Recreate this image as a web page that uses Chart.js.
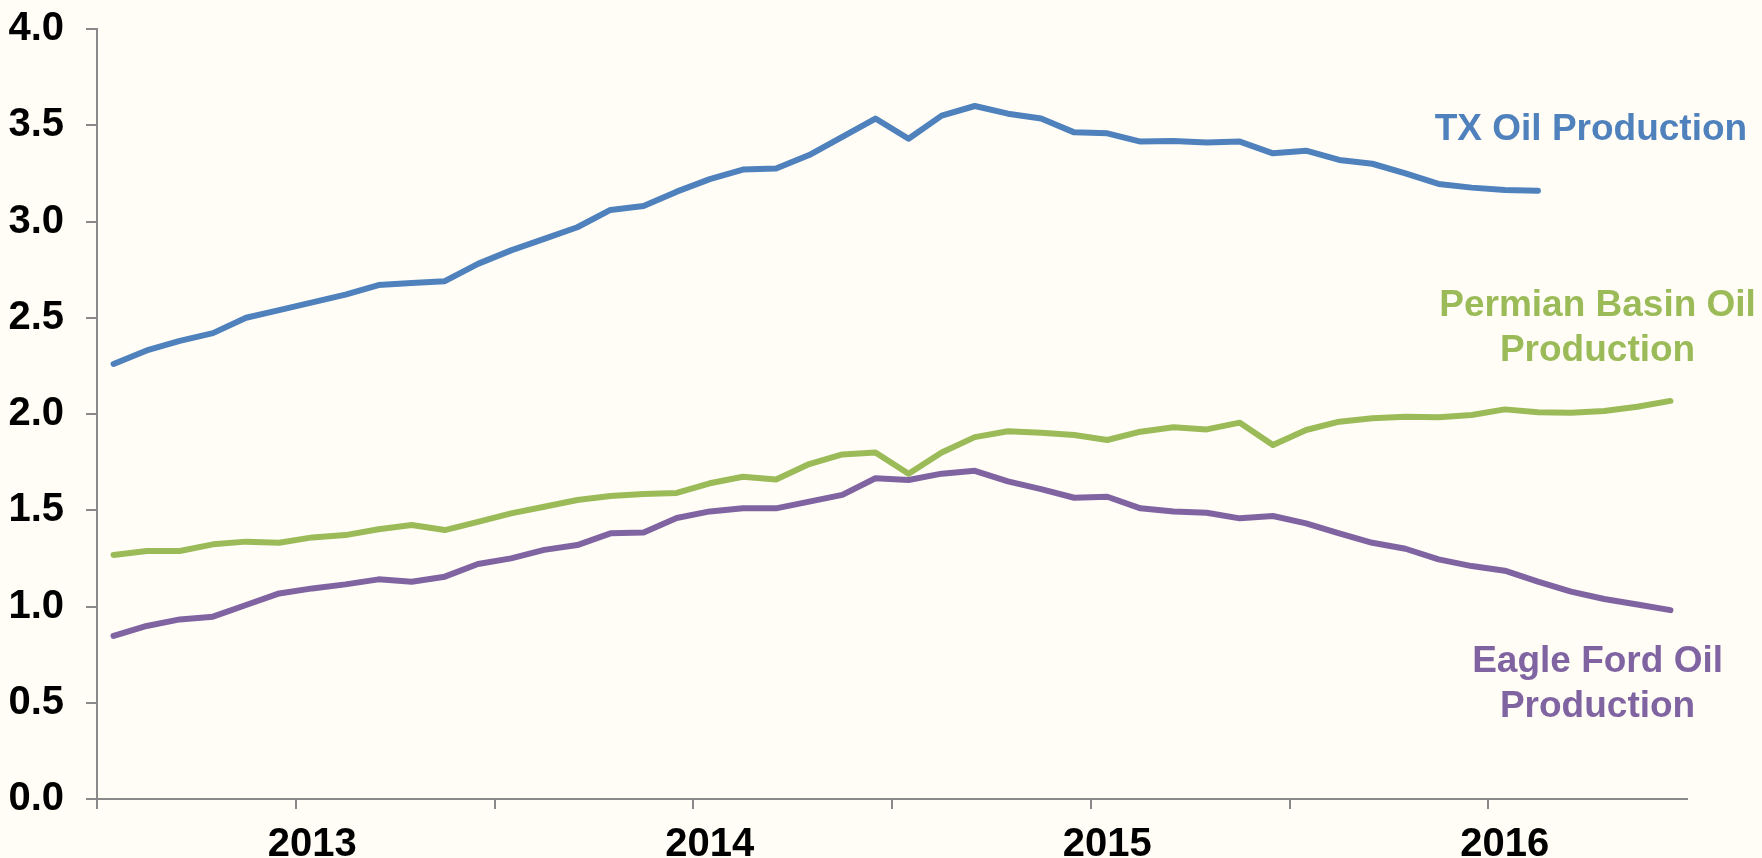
<!DOCTYPE html>
<html>
<head>
<meta charset="utf-8">
<script src="https://cdn.jsdelivr.net/npm/chart.js@4.4.1/dist/chart.umd.min.js"></script>
<style>
  html, body { margin: 0; padding: 0; background: #FFFDF6; }
  #wrap { width: 1762px; height: 858px; }
</style>
</head>
<body>
<div id="wrap"><canvas id="c" width="1762" height="858"></canvas></div>
<script>
const months = [
  "Jul 2012","Aug 2012","Sep 2012","Oct 2012","Nov 2012","Dec 2012",
  "Jan 2013","Feb 2013","Mar 2013","Apr 2013","May 2013","Jun 2013",
  "Jul 2013","Aug 2013","Sep 2013","Oct 2013","Nov 2013","Dec 2013",
  "Jan 2014","Feb 2014","Mar 2014","Apr 2014","May 2014","Jun 2014",
  "Jul 2014","Aug 2014","Sep 2014","Oct 2014","Nov 2014","Dec 2014",
  "Jan 2015","Feb 2015","Mar 2015","Apr 2015","May 2015","Jun 2015",
  "Jul 2015","Aug 2015","Sep 2015","Oct 2015","Nov 2015","Dec 2015",
  "Jan 2016","Feb 2016","Mar 2016","Apr 2016","May 2016","Jun 2016"
];
const yearLabels = ["2013", "2014", "2015", "2016"];

const txOil = [
  2.26, 2.33, 2.38, 2.42, 2.50, 2.54, 2.58, 2.62, 2.67, 2.68, 2.69, 2.78,
  2.85, 2.91, 2.97, 3.06, 3.08, 3.155, 3.22, 3.27, 3.275, 3.345, 3.44, 3.535,
  3.43, 3.55, 3.60, 3.56, 3.535, 3.463, 3.458, 3.415, 3.418, 3.41, 3.415, 3.354,
  3.368, 3.32, 3.30, 3.25, 3.195, 3.176, 3.164, 3.16, null, null, null, null
];
const permianOil = [
  1.268, 1.288, 1.288, 1.323, 1.337, 1.331, 1.359, 1.371, 1.401, 1.423, 1.397, 1.44,
  1.484, 1.518, 1.553, 1.574, 1.584, 1.59, 1.64, 1.674, 1.66, 1.74, 1.79, 1.80,
  1.69, 1.80, 1.88, 1.91, 1.903, 1.891, 1.865, 1.908, 1.931, 1.92, 1.955, 1.839,
  1.917, 1.96, 1.978, 1.986, 1.983, 1.995, 2.024, 2.009, 2.007, 2.016, 2.038, 2.068
];
const eagleFordOil = [
  0.847, 0.899, 0.933, 0.947, 1.008, 1.068, 1.094, 1.115, 1.141, 1.129, 1.155, 1.221,
  1.25, 1.294, 1.319, 1.38, 1.385, 1.46, 1.494, 1.51, 1.51, 1.545, 1.58, 1.666,
  1.657, 1.69, 1.705, 1.65, 1.61, 1.565, 1.57, 1.51, 1.493, 1.487, 1.458, 1.47,
  1.432, 1.38, 1.331, 1.30, 1.245, 1.21, 1.186, 1.129, 1.077, 1.039, 1.01, 0.981
];
const seriesNames = ["TX Oil Production", "Permian Basin Oil Production", "Eagle Ford Oil Production"];
const seriesColors = ["#4F81BD", "#9BBB59", "#8064A2"];

const FONT = "'Liberation Sans', Arial, sans-serif";
const AXIS = "#898989";

const labelPlugin = {
  id: 'seriesLabels',
  afterDatasetsDraw(chart) {
    const ctx = chart.ctx;
    const xs = chart.scales.x, ys = chart.scales.y;
    const items = [
      { lines: ["TX Oil Production"], xv: 44.6, yv: [3.423], color: seriesColors[0] },
      { lines: ["Permian Basin Oil", "Production"], xv: 44.8, yv: [2.509, 2.275], color: seriesColors[1] },
      { lines: ["Eagle Ford Oil", "Production"], xv: 44.8, yv: [0.661, 0.4275], color: seriesColors[2] }
    ];
    ctx.save();
    ctx.font = "bold 37px " + FONT;
    ctx.textAlign = 'center';
    ctx.textBaseline = 'alphabetic';
    items.forEach(it => {
      ctx.fillStyle = it.color;
      const x = xs.getPixelForValue(it.xv);
      it.lines.forEach((t, k) => ctx.fillText(t, x, ys.getPixelForValue(it.yv[k])));
    });
    ctx.restore();
  }
};

const mk = (label, data, color) => ({
  label, data,
  borderColor: color, backgroundColor: color,
  borderWidth: 6, pointRadius: 0, tension: 0,
  borderCapStyle: 'round', borderJoinStyle: 'round',
  spanGaps: false, fill: false
});

new Chart(document.getElementById('c'), {
  type: 'line',
  data: {
    labels: months,
    datasets: [
      mk(seriesNames[0], txOil, seriesColors[0]),
      mk(seriesNames[1], permianOil, seriesColors[1]),
      mk(seriesNames[2], eagleFordOil, seriesColors[2])
    ]
  },
  options: {
    responsive: false,
    devicePixelRatio: 1,
    animation: false,
    events: [],
    layout: { padding: { left: 0, right: 75, top: 29, bottom: 0 } },
    plugins: { legend: { display: false }, tooltip: { enabled: false } },
    scales: {
      x: {
        type: 'category',
        offset: true,
        afterFit(s) { s.height = 59; s.paddingLeft = 0; s.paddingRight = 0; },
        border: { display: true, color: AXIS, width: 2 },
        grid: {
          offset: true,
          drawOnChartArea: false,
          drawTicks: true,
          tickLength: 10,
          lineWidth: 2,
          tickWidth: 2,
          color: (c) => (c.index % 6 === 0 ? AXIS : 'rgba(0,0,0,0)'),
          tickColor: (c) => (c.index % 6 === 0 ? AXIS : 'rgba(0,0,0,0)')
        },
        ticks: {
          autoSkip: false,
          maxRotation: 0,
          minRotation: 0,
          padding: 12,
          color: '#000',
          font: { family: FONT, size: 40, weight: 'bold' },
          callback: function (v, i) {
            const lab = months[i];
            if (lab && lab.startsWith('Jan')) {
              const y = lab.slice(4);
              return yearLabels.includes(y) ? y : '';
            }
            return '';
          }
        }
      },
      y: {
        min: 0, max: 4,
        afterFit(s) { s.width = 97; s.paddingTop = 0; s.paddingBottom = 0; },
        border: { display: true, color: AXIS, width: 2 },
        grid: {
          drawOnChartArea: false,
          drawTicks: true,
          tickLength: 11,
          color: AXIS,
          tickColor: AXIS,
          lineWidth: 2,
          tickWidth: 2
        },
        ticks: {
          stepSize: 0.5,
          padding: 22,
          color: '#000',
          font: { family: FONT, size: 40, weight: 'bold' },
          callback: (v) => Number(v).toFixed(1)
        }
      }
    }
  },
  plugins: [labelPlugin]
});
</script>
</body>
</html>
